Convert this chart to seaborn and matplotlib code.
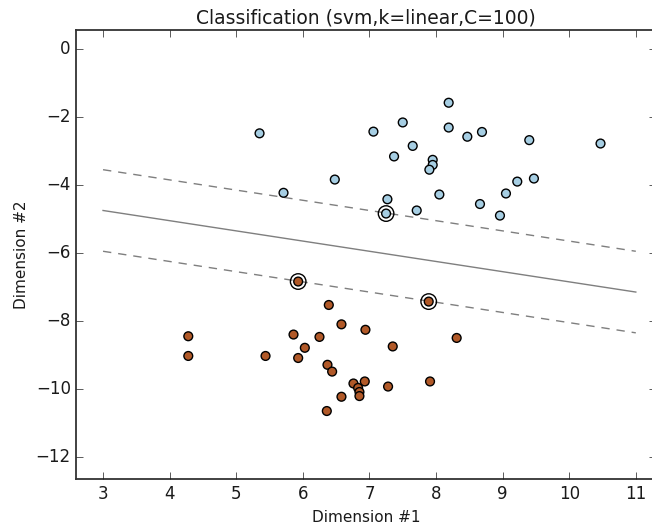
import numpy as np
import pandas as pd
import matplotlib
matplotlib.use("Agg")
import matplotlib.pyplot as plt
import seaborn as sns

# Class 0 samples (light blue)
blue_x = [5.35, 7.06, 7.50, 8.19, 8.19, 8.47, 8.69, 9.40, 10.47, 7.65,
          7.37, 7.95, 7.95, 7.90, 6.48, 5.71, 9.47, 9.22, 9.05, 8.05,
          7.27, 7.25, 7.71, 8.66, 8.96]
blue_y = [-2.48, -2.43, -2.16, -1.58, -2.31, -2.58, -2.44, -2.68, -2.78, -2.85,
          -3.16, -3.26, -3.41, -3.55, -3.84, -4.23, -3.81, -3.90, -4.25, -4.28,
          -4.42, -4.84, -4.75, -4.56, -4.90]

# Class 1 samples (orange)
orange_x = [5.93, 7.89, 6.39, 6.58, 6.94, 4.28, 5.86, 6.25, 8.31, 6.03,
            7.35, 4.28, 5.44, 5.93, 6.37, 6.44, 6.76, 6.93, 6.83, 6.85,
            6.85, 6.58, 7.28, 7.91, 6.36]
orange_y = [-6.84, -7.43, -7.53, -8.10, -8.26, -8.45, -8.40, -8.47, -8.50, -8.79,
            -8.75, -9.03, -9.03, -9.09, -9.29, -9.49, -9.84, -9.78, -9.97, -10.09,
            -10.21, -10.23, -9.93, -9.78, -10.65]

# Support vectors
sv_x = [7.25, 5.93, 7.89]
sv_y = [-4.84, -6.84, -7.43]

# Separating hyperplane y = slope * x + intercept, margins at +/- margin
slope = -0.30
intercept = -3.85
margin = 1.20
line_x = np.array([3.0, 11.0])

sns.set_theme(style="white")
plt.style.use("classic")
plt.rcParams["font.family"] = ["DejaVu Sans"]

fig = plt.figure(figsize=(6.52, 5.27), dpi=100)
fig.patch.set_facecolor("white")
ax = fig.add_axes([76.4 / 652, 48 / 527, 579.4 / 652, 449 / 527])
ax.set_facecolor("white")

pts = pd.DataFrame({
    "x": blue_x + orange_x,
    "y": blue_y + orange_y,
    "cls": ["0"] * len(blue_x) + ["1"] * len(orange_x),
})

lines = pd.DataFrame({
    "x": np.concatenate([line_x] * 3),
    "y": np.concatenate([slope * line_x + intercept,
                         slope * line_x + intercept + margin,
                         slope * line_x + intercept - margin]),
    "kind": ["solid"] * 2 + ["upper"] * 2 + ["lower"] * 2,
})

sns.lineplot(data=lines[lines.kind == "solid"], x="x", y="y", ax=ax,
             color="#7f7f7f", linewidth=1.0, legend=False)
for k in ["upper", "lower"]:
    sns.lineplot(data=lines[lines.kind == k], x="x", y="y", ax=ax,
                 color="#7f7f7f", linewidth=1.0, legend=False,
                 linestyle=(0, (6, 5)))

sns.scatterplot(data=pts, x="x", y="y", hue="cls",
                palette={"0": "#a6cee3", "1": "#b15928"},
                s=40, edgecolor="black", linewidth=1.0, legend=False,
                ax=ax, zorder=5)

sns.scatterplot(x=sv_x, y=sv_y, s=125, facecolors="none",
                edgecolor="black", linewidth=1.0, ax=ax, zorder=10)

ax.set_xlim(2.6, 11.3)
ax.set_ylim(-12.65, 0.56)
ax.set_xticks(range(3, 12))
ax.set_yticks([0, -2, -4, -6, -8, -10, -12])
ax.tick_params(direction="in", top=True, right=True, labelsize=12, length=5)
for sp in ax.spines.values():
    sp.set_linewidth(1.3)
    sp.set_color("#333333")
ax.set_xlabel("Dimension #1", fontsize=11)
ax.set_ylabel("Dimension #2", fontsize=11)
ax.set_title("Classification (svm,k=linear,C=100)", fontsize=13.5)

fig.savefig("out.png", dpi=100)
